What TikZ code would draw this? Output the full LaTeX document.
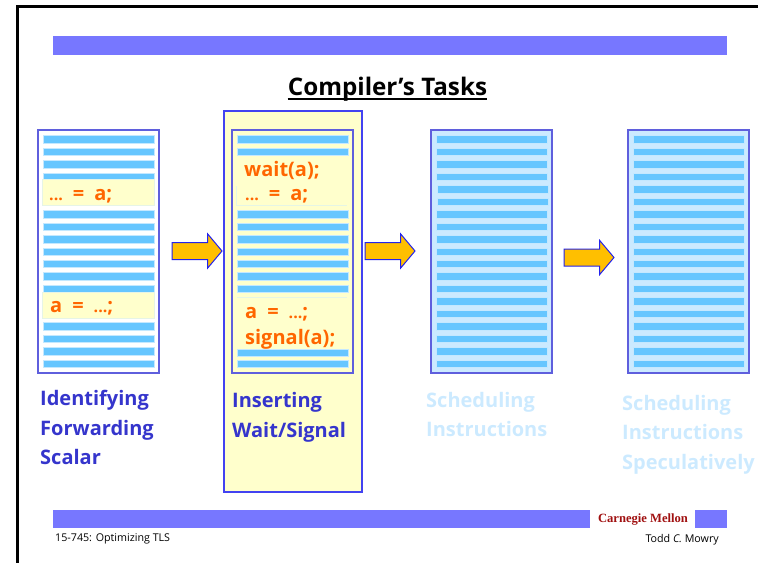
\documentclass[tikz,border=0pt]{standalone}
\usepackage{fontspec}
\setmainfont{Open Sans}
\newfontfamily\cmufont{Liberation Serif}
\usetikzlibrary{shapes.arrows}
\definecolor{banner}{HTML}{7777FF}
\definecolor{boxline}{HTML}{5F5FDD}
\definecolor{edgeblue}{HTML}{2222EE}
\definecolor{codebar}{HTML}{66C6FF}
\definecolor{codeedge}{HTML}{C4E8FF}
\definecolor{paleblue}{HTML}{CCEAFF}
\definecolor{paleyellow}{HTML}{FFFFCC}
\definecolor{codeorange}{HTML}{FF6600}
\definecolor{labelblue}{HTML}{3535CC}
\definecolor{cmured}{HTML}{A01010}
\newcommand{\codedots}{{\fontsize{16}{16}\selectfont ...}}
\newcommand{\codegap}{\hspace{10pt}}
\tikzstyle{banner} = [rectangle, anchor=north west, inner sep=0pt, outer sep=0pt, fill=banner]
\tikzstyle{column} = [rectangle, anchor=north west, inner sep=0pt, outer sep=0pt,
minimum width=121pt,
minimum height=243pt,
line width=1.5pt,
draw=boxline]
\tikzstyle{codebar} = [rectangle, anchor=north west, inner sep=0pt, outer sep=0pt,
minimum width=111pt,
minimum height=7.5pt,
line width=0.5pt,
draw=codeedge,
fill=codebar]
\tikzstyle{codeblock} = [rectangle, anchor=north west, inner sep=0pt, outer sep=0pt,
minimum width=112pt,
minimum height=26pt,
line width=0.3pt,
draw=paleblue!50!paleyellow,
fill=paleyellow]
\tikzstyle{codetext} = [anchor=base west, inner sep=0pt, text=codeorange, font=\fontsize{20}{20}\selectfont\bfseries]
\tikzstyle{tasklabel} = [anchor=base west, inner sep=0pt, font=\fontsize{20}{20}\selectfont\bfseries]
\tikzstyle{step arrow} = [single arrow, anchor=west, inner sep=0pt, inner ysep=8pt, outer sep=0pt,
minimum height=50pt,
minimum width=33pt,
single arrow head extend=8.5pt,
single arrow tip angle=100,
line width=1pt,
draw=edgeblue,
fill=orange!50!yellow]
\tikzstyle{footer} = [inner sep=0pt, font=\fontsize{10.7}{10.7}\selectfont]

\begin{document}
\begin{tikzpicture}[x=1pt, y=-1pt]
\useasboundingbox (0,0) rectangle (758,563);

% slide edge
\fill[black] (16,5) rectangle (758,8);
\fill[black] (16,5) rectangle (19,563);

\node (topbar) [banner, minimum width=674pt, minimum height=19pt] at (53,36) {};
\node (title) [anchor=base, inner sep=0pt, font=\fontsize{24.2}{24.2}\selectfont\bfseries] at (387.5,95) {Compiler's Tasks};
\draw[line width=2pt] ([yshift=-4pt]title.base west) -- ([yshift=-4pt]title.base east);

% column 1
\node (first) [column, fill=white] at (38,130) {};
\foreach \i in {0,1,2,3,6,7,8,9,10,11,12,15,16,17,18}
  \node (first\i) [codebar] at ({43.25},{135.7+12.45*\i}) {};
\node (firstuse) [codeblock] at (42,179) {};
\node (firstdef) [codeblock] at (42.5,291.7) {};
\node (firstread) [codetext] at (49,200) {\codedots\codegap=\codegap a;};
\node (firstwrite) [codetext] at (50,312) {a\codegap=\codegap\codedots;};

% column 2
\node (second) [rectangle, anchor=north west, inner sep=0pt, outer sep=0pt, minimum width=138pt, minimum height=381pt, line width=1.5pt, draw=edgeblue!85!white, fill=paleyellow] at (224,111) {};
\node (secondin) [column, fill=paleyellow] at (232,130) {};
\foreach \i in {0,1,6,7,8,9,10,11,12,18}
  \node (second\i) [codebar] at ({237},{135.7+12.45*\i}) {};
\node (second17) [codebar] at (237,349) {};
\draw[paleblue!50!paleyellow, line width=0.4pt] (236.5,186) -- (236.5,205) -- (347,205);
\draw[paleblue!50!paleyellow, line width=0.4pt] (237,297) -- (347,297);
\node (waitcall) [codetext] at (244,176) {wait(a);};
\node (secondread) [codetext] at (245,200.5) {\codedots\codegap=\codegap a;};
\node (secondwrite) [codetext] at (245,318) {a\codegap=\codegap\codedots;};
\node (signalcall) [codetext] at (245,344) {signal(a);};

% column 3
\node (third) [column, fill=paleblue] at (431,130) {};
\foreach \i in {0,...,18}
  \node (third\i) [codebar] at ({436+(\i==4)+(\i==5)},{135.7+12.45*\i}) {};

% column 4
\node (fourth) [column, fill=paleblue] at (628,130) {};
\foreach \i in {0,...,18}
  \node (fourth\i) [codebar] at ({633.5},{135.7+12.45*\i}) {};

% arrows between the columns
\node (arrowa) [step arrow] at (172,251) {};
\node (arrowb) [step arrow] at (365,251) {};
\node (arrowc) [step arrow] at (564,257.5) {};

% labels under the columns
\node (identify) [tasklabel, text=labelblue] at (40,405) {Identifying};
\node (forward) [tasklabel, text=labelblue] at (40,435) {Forwarding};
\node (scalar) [tasklabel, text=labelblue] at (40,464) {Scalar};
\node (insert) [tasklabel, text=labelblue] at (232,407) {Inserting};
\node (waitsig) [tasklabel, text=labelblue] at (232,437) {Wait/Signal};
\node (schedule) [tasklabel, text=paleblue] at (426,407.5) {Scheduling};
\node (instr) [tasklabel, text=paleblue] at (426,436) {Instructions};
\node (schedspec) [tasklabel, text=paleblue] at (622,410) {Scheduling};
\node (instrspec) [tasklabel, text=paleblue] at (622,439) {Instructions};
\node (spec) [tasklabel, text=paleblue] at (622,469) {Speculatively};

% footer
\node (botbar) [banner, minimum width=537pt, minimum height=18pt] at (53,510) {};
\node (botend) [banner, minimum width=32pt, minimum height=18pt] at (695,510) {};
\node (cmu) [anchor=base, inner sep=0pt, text=cmured, font=\fontsize{12.6}{12.6}\cmufont\bfseries] at (643,522) {Carnegie Mellon};
\node (course) [footer, anchor=base west] at (55,541) {15-745: Optimizing TLS};
\node (lecturer) [footer, anchor=base east] at (719,542) {Todd \textit{C.} Mowry};

\end{tikzpicture}
\end{document}
